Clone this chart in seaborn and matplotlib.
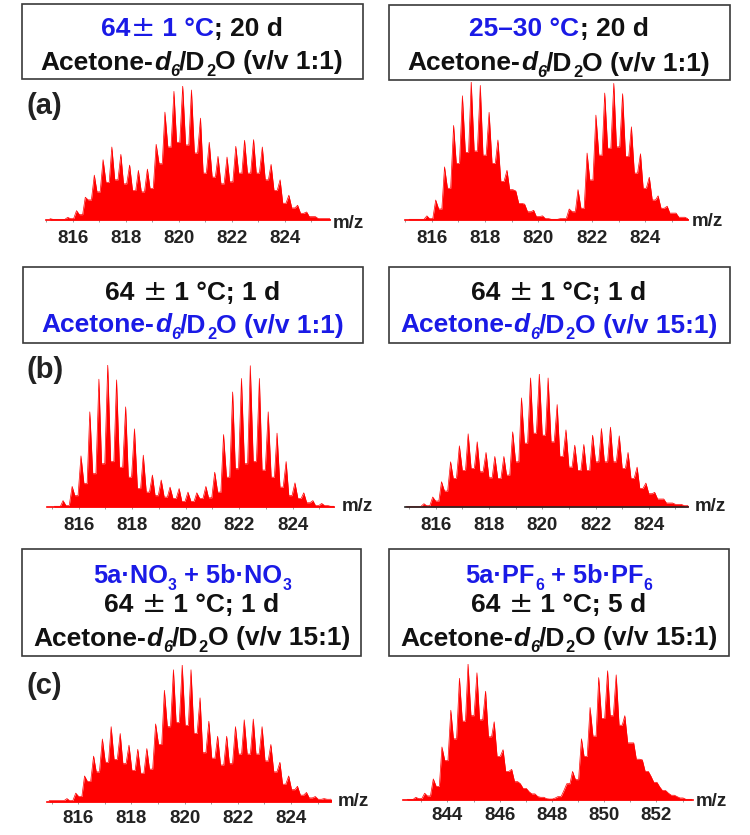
import matplotlib
matplotlib.use("Agg")
import matplotlib.pyplot as plt
from matplotlib.patches import Rectangle
import seaborn as sns

# m/z grid, every other point is a peak (the rest are valleys)
mz_base = [815.15, 815.32, 815.48, 815.65, 815.82, 815.98,
           816.15, 816.32, 816.48, 816.65, 816.82, 816.98,
           817.15, 817.32, 817.48, 817.65, 817.82, 817.98,
           818.15, 818.32, 818.48, 818.65, 818.82, 818.98,
           819.15, 819.32, 819.48, 819.65, 819.82, 819.98,
           820.15, 820.32, 820.48, 820.65, 820.82, 820.98,
           821.15, 821.32, 821.48, 821.65, 821.82, 821.98,
           822.15, 822.32, 822.48, 822.65, 822.82, 822.98,
           823.15, 823.32, 823.48, 823.65, 823.82, 823.98,
           824.15, 824.32, 824.48, 824.65, 824.82, 824.98,
           825.15, 825.32, 825.48, 825.65, 825.82, 825.98]

# relative intensity, peak, valley, peak, valley ...
int_a_left = [1, .5, .5, .5, 2, 1, 7, 4, 17, 15, 33.5, 21, 45, 28, 54.5, 30, 49, 27, 41, 22,
              37, 21, 38, 23.5, 56.5, 42, 80.5, 54.5, 96, 58, 100, 56, 97, 50, 76, 35,
              58, 32, 47.5, 27, 47, 28.5, 55, 35, 59.5, 35, 60, 35, 54.5, 30, 41.5, 22,
              30, 12.5, 18.5, 9, 11, 5, 6, 2.5, 2.5, 1, 1, 1]
int_a_right = [.5, .5, .5, .5, 3, 1, 14.5, 8, 38.5, 23, 68.5, 41, 90, 49, 100, 50, 97.5, 47, 78, 41,
               58, 28, 36, 22, 21, 12, 11.5, 6, 7, 2.5, 3, 1, .5, .5, 1, 1, 8, 6, 22, 8.5,
               48.5, 29, 76, 47, 92, 52, 99, 53, 91.5, 46, 67.5, 34, 48, 23, 31, 14.5,
               17.5, 8.5, 10, 5, 5, 2, 2, 1]
int_b_left = [.5, .5, 4.5, 1, 14.5, 8, 36, 16.5, 67, 23.5, 90, 30.5, 100, 32, 89.5, 28, 70.5, 21,
              55, 13, 36.5, 10.5, 22.5, 8, 19, 7, 14, 6, 13, 4, 10.5, 4, 10, 6, 14.5, 6.5,
              24.5, 10.5, 51, 21, 81, 27, 90.5, 30.5, 99.5, 32, 90.5, 26, 67, 21, 52, 14,
              32, 8, 17, 6, 10, 3, 4.5, 1, 2.5, 1, .5, .5]
int_b_right = [.5, .5, .5, .5, 2.5, 1, 7.5, 4.5, 19, 12, 34, 21.5, 46, 27.5, 55, 29, 49, 26.5,
               41, 22, 38, 21.5, 38, 24, 56.5, 34, 82, 48, 97, 55.5, 100, 54, 97, 49, 77, 38,
               58, 30, 46.5, 27.5, 47, 27.5, 54, 34, 59, 34, 60, 34, 53.5, 29, 41, 21.5,
               30, 14, 18, 10, 11, 6, 6, 3, 3, 2, 2, 1, 2, 1]
int_c_left = [1, 1, 1, 1, 2.5, 1, 6.5, 4, 19, 15, 33.5, 22, 46, 29, 55, 31, 50, 28, 41.5, 23,
              38.5, 21, 39, 24, 57, 42, 81.5, 55, 96.5, 58, 100, 56, 96.5, 50, 76, 36,
              59, 32, 48, 27, 48, 28, 55, 35, 60, 35, 60.5, 35, 55, 30, 42, 22,
              29, 13, 19, 9, 11.5, 5, 7, 3, 4, 2, 2.5, 2, 2.5, 2]
int_c_right = [.5, .5, 2, 1, 5, 3, 15.5, 10, 39, 29, 66, 45, 89.5, 58, 100, 62, 93.5, 59, 80, 46.5,
               57.5, 32, 37, 21, 22.5, 13.5, 12, 8.5, 6, 4.5, 2.5, 2, 1, .7, 1.5, 2.5, 7, 12,
               21, 15, 45, 32, 68, 47, 90, 60, 95, 62, 92, 55, 62, 42, 42, 30, 29.5, 21,
               17.5, 13, 9.5, 7, 5, 3.5, 2.5, 1.5, .5, .5]

ticks_816 = [816, 818, 820, 822, 824]
ticks_816_minor = [815, 817, 819, 821, 823, 825]
ticks_844 = [844, 846, 848, 850, 852]
ticks_844_minor = [843, 845, 847, 849, 851, 853]

BLUE = "#1a1ae6"
BLACK = "#111111"

# text of the boxes: (string, colour, kind)
line_acetone_1 = [("Acetone-", BLACK, "n"), ("d", BLACK, "i"), ("6", BLACK, "si"), ("/D", BLACK, "n"),
                  ("2", BLACK, "s"), ("O (v/v 1:1)", BLACK, "n")]
line_acetone_1_blue = [(t, BLUE, k) for t, c, k in line_acetone_1]
line_acetone_15 = [("Acetone-", BLACK, "n"), ("d", BLACK, "i"), ("6", BLACK, "si"), ("/D", BLACK, "n"),
                   ("2", BLACK, "s"), ("O (v/v 15:1)", BLACK, "n")]
line_acetone_15_blue = [(t, BLUE, k) for t, c, k in line_acetone_15]
line_1d = [("64 ", BLACK, "n"), ("±", BLACK, "pm"), (" 1 °C; 1 d", BLACK, "n")]
line_5d = [("64 ", BLACK, "n"), ("±", BLACK, "pm"), (" 1 °C; 5 d", BLACK, "n")]
line_64_20 = [("64", BLUE, "n"), ("±", BLUE, "pm"), (" 1 °C", BLUE, "n"), ("; 20 d", BLACK, "n")]
line_25_20 = [("25–30 °C", BLUE, "n"), ("; 20 d", BLACK, "n")]
line_no3 = [("5a·NO", BLUE, "n"), ("3", BLUE, "s"), (" + 5b·NO", BLUE, "n"), ("3", BLUE, "s")]
line_pf6 = [("5a·PF", BLUE, "n"), ("6", BLUE, "s"), (" + 5b·PF", BLUE, "n"), ("6", BLUE, "s")]

W, H = 750, 835

sns.set_style("white")
plt.rcParams["font.family"] = ["Liberation Sans", "DejaVu Sans"]
fig = plt.figure(figsize=(W / 100, H / 100), dpi=100)
renderer = fig.canvas.get_renderer()


def fx(x):
    return x / W


def fy(y):
    return 1 - y / H


def draw_line(segments, xc, yc, size):
    """write coloured pieces one after the other, centred on xc, yc (pixels)"""
    texts = []
    total = 0
    for s, color, kind in segments:
        fs = size * 0.62 if kind in ("s", "si") else size
        kw = dict(color=color, fontsize=fs, va="baseline", ha="left")
        if kind == "pm":
            kw.update(family="DejaVu Sans", fontsize=size * 1.1)
        else:
            kw.update(fontweight="bold")
        if kind in ("i", "si"):
            kw.update(fontstyle="italic")
        t = fig.text(0, 0, s.replace(" ", "\u00a0"), **kw)
        width = t.get_window_extent(renderer).width
        texts.append((t, kind, total))
        total += width + (size * 0.02 if kind == "n" else 0)
    for t, kind, off in texts:
        drop = size * 0.36 if kind in ("s", "si") else 0
        t.set_position((fx(xc - total / 2 + off), fy(yc + size * 0.5 + drop)))


def draw_box(x0, y0, x1, y1):
    fig.add_artist(Rectangle((fx(x0), fy(y1)), (x1 - x0) / W, (y1 - y0) / H, transform=fig.transFigure,
                             fill=False, edgecolor="#3a3a3a", linewidth=1.2))


def draw_panel(intensity, shift, x0, x1, xlim, base, top, major, minor, pad, mz_pos, spine="red"):
    ax = fig.add_axes([fx(x0), fy(base), (x1 - x0) / W, (base - top) / H])
    # valleys are flat shoulders in the spectrum, peaks are narrow spikes
    mz, vals = [], []
    for i, v in enumerate(intensity):
        m = mz_base[i] + shift
        if i % 2:
            mz += [m - 0.06, m + 0.06]
            vals += [v, v]
        else:
            mz.append(m)
            vals.append(v)
    ax.fill_between(mz, vals, 0, color="red", linewidth=0)
    sns.lineplot(x=mz, y=vals, ax=ax, color="red", linewidth=0.5, errorbar=None)
    ax.set_xlim(*xlim)
    ax.set_ylim(0, 100)
    ax.set_xticks(major)
    ax.set_xticks(minor, minor=True)
    ax.set_yticks([])
    ax.tick_params(axis="x", which="both", bottom=True, length=1.5, width=0.6, color="#888888", pad=pad)
    ax.set_xticklabels([str(v) for v in major], fontsize=13.5, fontweight="bold", color="#222222")
    ax.patch.set_alpha(0)
    sns.despine(ax=ax, left=True)
    ax.spines["bottom"].set_color(spine)
    ax.spines["bottom"].set_linewidth(1.2)
    fig.text(fx(mz_pos[0]), fy(mz_pos[1]), "m/z", fontsize=13.5, fontweight="bold", color="#222222",
             ha="left", va="center")


# row a
draw_box(22, 4, 363, 79)
draw_line(line_64_20, 192, 27, 19)
draw_line(line_acetone_1, 192, 60, 19)
draw_box(389, 5, 730, 80)
draw_line(line_25_20, 559, 27, 19)
draw_line(line_acetone_1, 559, 61, 19)
draw_panel(int_a_left, 0, 46, 330, (815.1, 825.7), 220, 86, ticks_816, ticks_816_minor, 5.5, (333, 223))
draw_panel(int_a_right, 0, 405, 688, (815.0, 825.6), 220, 82, ticks_816, ticks_816_minor, 5.5, (692, 222))

# row b
draw_box(23, 267, 363, 343)
draw_line(line_1d, 193, 290, 19)
draw_line(line_acetone_1_blue, 193, 323, 19)
draw_box(389, 267, 730, 343)
draw_line(line_1d, 559, 290, 19)
draw_line(line_acetone_15_blue, 559, 323, 19)
draw_panel(int_b_left, -0.06, 47, 334, (814.82, 825.55), 507, 365, ticks_816, ticks_816_minor, 5.5, (342, 507))
draw_panel(int_b_right, -0.26, 405, 688, (814.85, 825.47), 507, 374, ticks_816, ticks_816_minor, 5.5, (695, 507),
           spine="#222222")

# row c
draw_box(22, 549, 361, 656)
draw_line(line_no3, 192, 574, 18.3)
draw_line(line_1d, 192, 603, 19)
draw_line(line_acetone_15, 192, 636, 19)
draw_box(389, 549, 729, 656)
draw_line(line_pf6, 559, 574, 18.3)
draw_line(line_5d, 559, 603, 19)
draw_line(line_acetone_15, 559, 636, 19)
draw_panel(int_c_left, -0.24, 47, 331, (814.83, 825.5), 802, 665, ticks_816, ticks_816_minor, 4.5, (338, 802))
draw_panel(int_c_right, 27.31, 403, 693, (842.3, 853.4), 800, 664, ticks_844, ticks_844_minor, 3.5, (696, 801))

# panel letters
fig.text(fx(27), fy(106), "(a)", fontsize=21, fontweight="bold", color="#222222", va="center")
fig.text(fx(27), fy(370), "(b)", fontsize=21, fontweight="bold", color="#222222", va="center")
fig.text(fx(27), fy(686), "(c)", fontsize=21, fontweight="bold", color="#222222", va="center")

fig.savefig("out.png", dpi=100)
